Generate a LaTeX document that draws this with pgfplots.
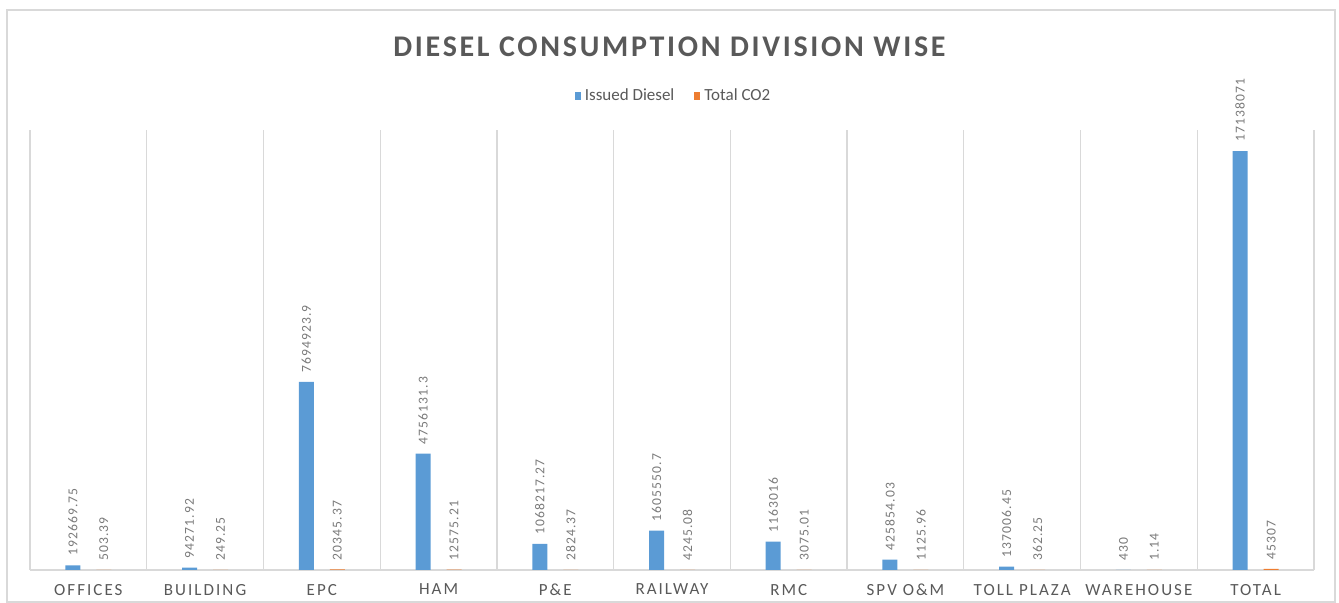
\documentclass[border=0pt]{standalone}
\usepackage{fontspec}
\setmainfont{Carlito}
\newfontfamily\titlefont[LetterSpace=9]{Carlito}
\newfontfamily\tickfont[LetterSpace=12]{Carlito}
\newfontfamily\labelfont[LetterSpace=8]{Carlito}
\usepackage{pgfplots}
\usepackage{pgfplotstable}
\pgfplotsset{compat=1.18}

\definecolor{dieselblue}{HTML}{5B9BD5}
\definecolor{co2orange}{HTML}{ED7D31}
\definecolor{gridgray}{HTML}{D9D9D9}
\definecolor{textgray}{HTML}{595959}
\definecolor{labelgray}{HTML}{7A7A7A}

% Issued diesel per division
\pgfplotstableread{
x y label
0 192669.75 192669.75
1 94271.92 94271.92
2 7694923.9 7694923.9
3 4756131.3 4756131.3
4 1068217.27 1068217.27
5 1605550.7 1605550.7
6 1163016 1163016
7 425854.03 425854.03
8 137006.45 137006.45
9 430 430
10 17138071 17138071
}\diesel

% Total CO2 per division
\pgfplotstableread{
x y label
0 503.39 503.39
1 249.25 249.25
2 20345.37 20345.37
3 12575.21 12575.21
4 2824.37 2824.37
5 4245.08 4245.08
6 3075.01 3075.01
7 1125.96 1125.96
8 362.25 362.25
9 1.14 1.14
10 45307 45307
}\cotwo

\begin{document}
\begin{tikzpicture}
\useasboundingbox (0,0) rectangle (669.5pt,301.5pt);
\draw[gridgray, line width=1pt] (3.5pt,0.5pt) rectangle (667.5pt,296.5pt);
\begin{axis}[
  at={(15pt,16.5pt)}, anchor=south west,
  scale only axis,
  width=642pt, height=220pt,
  ybar,
  bar width=7.5pt,
  xmin=-0.5, xmax=10.5,
  ymin=0, ymax=18000000,
  axis y line=none,
  axis x line*=bottom,
  x axis line style={draw=gridgray, line width=0.6pt, -},
  xtick={0,1,...,10},
  xticklabels={OFFICES,BUILDING,EPC,HAM,P\&E,RAILWAY,RMC,SPV O\&M,TOLL PLAZA,WAREHOUSE,TOTAL},
  major tick length=0pt,
  minor xtick={-0.5,0.5,...,10.5},
  minor tick length=0pt,
  xminorgrids=true,
  minor x grid style={draw=gridgray, line width=0.6pt},
  x tick label style={font=\tickfont\fontsize{8.5}{10}\selectfont, text=textgray, yshift=-3.5pt},
  title={DIESEL CONSUMPTION DIVISION WISE},
  every axis title shift=0pt,
  title style={at={(0.498,1.189)}, anchor=center, yshift=0pt,
    font=\titlefont\bfseries\fontsize{15}{17}\selectfont, text=textgray},
  legend style={at={(0.502,1.077)}, anchor=center, draw=none, fill=none,
    font=\fontsize{8.5}{10}\selectfont, text=textgray,
    /tikz/every even column/.append style={column sep=8pt}},
  legend columns=2,
  legend image code/.code={\fill[#1] (0pt,-2pt) rectangle (3pt,2pt);},
  point meta=explicit symbolic,
  nodes near coords,
  nodes near coords style={rotate=90, anchor=west, inner xsep=4.5pt, inner ysep=0pt,
    font=\labelfont\fontsize{6.8}{8}\selectfont, text=labelgray},
]
\addplot[fill=dieselblue, draw=none, bar shift=-7.75pt] table[x=x, y=y, meta=label] {\diesel};
\addlegendentry{Issued Diesel}
\addplot[fill=co2orange, draw=none, bar shift=7.75pt] table[x=x, y=y, meta=label] {\cotwo};
\addlegendentry{Total CO2}
\end{axis}
\end{tikzpicture}
\end{document}
